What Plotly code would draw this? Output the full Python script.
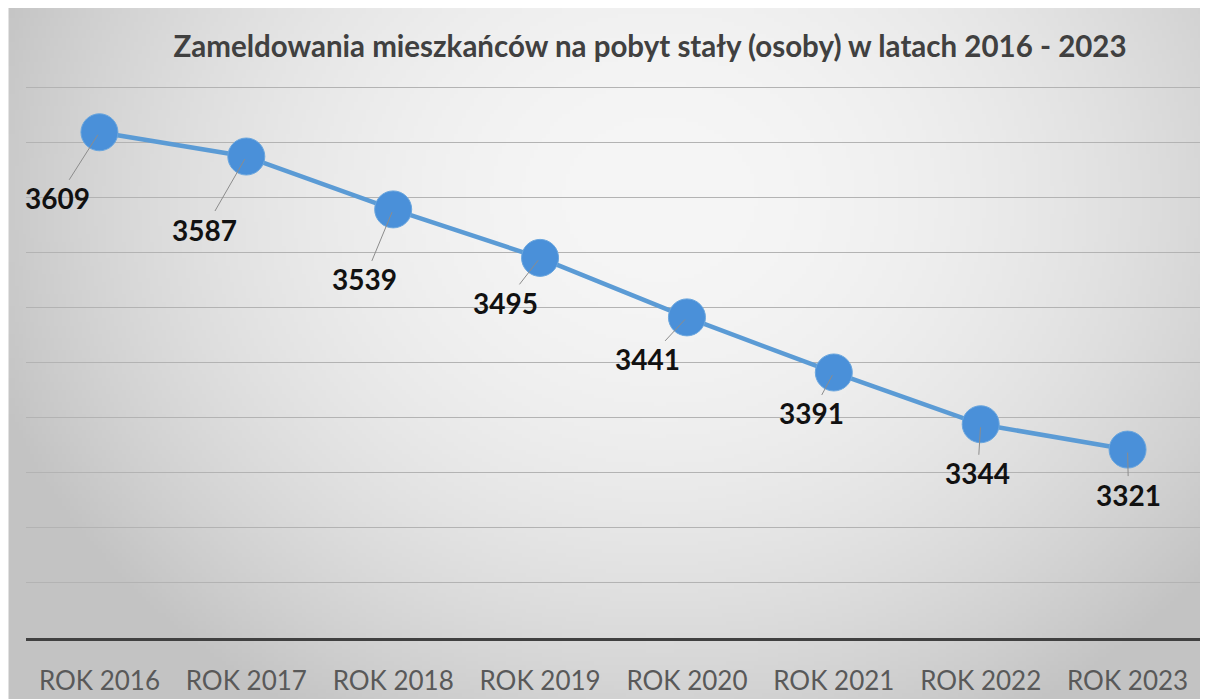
import base64
import struct
import zlib

import numpy as np
import plotly.graph_objects as go

# DATA
years = ["ROK 2016", "ROK 2017", "ROK 2018", "ROK 2019",
         "ROK 2020", "ROK 2021", "ROK 2022", "ROK 2023"]
residents = [3609, 3587, 3539, 3495, 3441, 3391, 3344, 3321]
title = "Zameldowania mieszkańców na pobyt stały (osoby) w latach 2016 - 2023"

# label offsets in px (label centre relative to the marker)
label_dx = [-42, -42, -29, -35, -39, -22, -3, 1]
label_dy = [66, 73, 70, 45, 42, 41, 49, 45]

# the page body adds an 8px margin; the figure runs 8px past the window on
# the right and bottom so the grey background reaches the edges
W, H = 1208, 699
L, R, T, B = 17.5, 14.5, 78, 69
pw, ph = W - L - R, H - T - B


def png_data_uri(rgb):
    h, w, _ = rgb.shape
    raw = b"".join(b"\x00" + rgb[i].tobytes() for i in range(h))

    def chunk(tag, data):
        c = tag + data
        return struct.pack(">I", len(data)) + c + struct.pack(">I", zlib.crc32(c) & 0xffffffff)

    png = b"\x89PNG\r\n\x1a\n"
    png += chunk(b"IHDR", struct.pack(">IIBBBBB", w, h, 8, 2, 0, 0, 0))
    png += chunk(b"IDAT", zlib.compress(raw, 9))
    png += chunk(b"IEND", b"")
    return "data:image/png;base64," + base64.b64encode(png).decode()


# soft radial grey background, like the office chart style
gw, gh = 302, 175
xs = np.linspace(0, W, gw)
ys = np.linspace(0, H, gh)
gx, gy = np.meshgrid(xs, ys)
t2 = ((gx - 652) / 700) ** 2 + ((gy - 190) / 600) ** 2
shade = np.clip(246 - 50 * t2, 195, 246).astype(np.uint8)
bg = np.dstack([shade, shade, shade])

fig = go.Figure()
fig.add_trace(go.Scatter(
    x=years, y=residents, mode="lines+markers",
    line=dict(color="#5b9bd5", width=4.5),
    marker=dict(size=37, color="#4a90d9", line=dict(color="#6aa6de", width=1)),
    hoverinfo="x+y",
))

for yr, v, dx, dy in zip(years, residents, label_dx, label_dy):
    fig.add_annotation(
        x=yr, y=v, text=str(v), showarrow=True, ax=dx, ay=dy,
        arrowhead=0, arrowwidth=1, arrowcolor="#8c8c8c", standoff=3,
        font=dict(family="Lato", size=28, color="#111111", weight="bold"),
    )

fig.add_layout_image(
    source=png_data_uri(bg), xref="paper", yref="paper",
    x=-L / pw, y=(H - B) / ph, sizex=W / pw, sizey=H / ph,
    sizing="stretch", xanchor="left", yanchor="top", layer="below",
)

fig.update_layout(
    width=W, height=H,
    margin=dict(l=L, r=R, t=T, b=B, pad=0),
    paper_bgcolor="white", plot_bgcolor="rgba(0,0,0,0)",
    showlegend=False,
    title=dict(text=title, x=642 / W, xanchor="center", y=1 - 39 / H, yanchor="middle",
               font=dict(family="Lato", size=29.5, color="#404040", weight="bold")),
    xaxis=dict(range=[-0.5, 7.5], showgrid=False, showline=True, linecolor="#404040",
               linewidth=3, ticks="", ticklabelstandoff=18, automargin=False,
               tickfont=dict(family="Lato", size=26, color="#595959")),
    yaxis=dict(range=[3150, 3651], tick0=3150, dtick=50, showgrid=True, gridcolor="#b3b3b3",
               gridwidth=1, showticklabels=False, zeroline=False, automargin=False,
               fixedrange=True),
)

fig.write_html("out.html")
